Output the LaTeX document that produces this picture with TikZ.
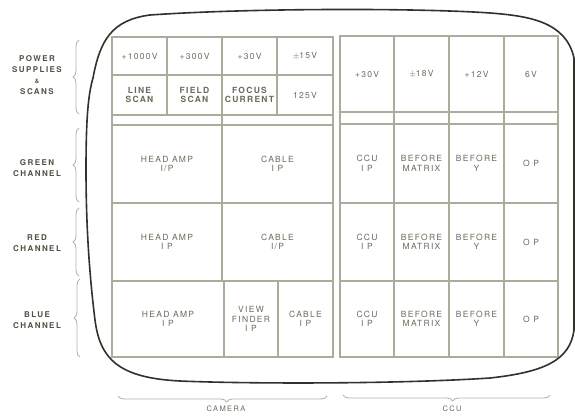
\documentclass[tikz,border=0pt]{standalone}
\usepackage{fontspec}
\setmainfont{TeX Gyre Heros}
\newfontfamily\cellfont[LetterSpace=15]{TeX Gyre Heros}
\newfontfamily\lblfont[LetterSpace=18]{TeX Gyre Heros}
\usetikzlibrary{decorations.pathreplacing}
\definecolor{gridc}{HTML}{A9AD99}
\definecolor{bracec}{HTML}{B5B8A6}
\definecolor{txtc}{HTML}{686D5B}
\definecolor{lblc}{HTML}{4F5444}
\definecolor{scrc}{HTML}{2F332A}
\newcommand{\cellat}[6]{%
  \pgfmathsetmacro\cw{#4-#2}\pgfmathsetmacro\ch{#5-#3}%
  \node[cell, minimum width=\cw pt, minimum height=\ch pt] (#1) at ({(#2+#4)/2},{(#3+#5)/2}) {#6};}
\tikzset{
  cell/.style={draw=gridc, line width=1.1pt, inner sep=0pt, align=center, text=txtc,
    font={\cellfont\fontsize{8.5}{9.5}\selectfont}},
  boldcell/.style={cell, font={\cellfont\bfseries\fontsize{8.5}{9.5}\selectfont}},
  sidelbl/.style={align=center, text=lblc, inner sep=0pt,
    font={\lblfont\bfseries\fontsize{8}{11}\selectfont}},
  botlbl/.style={align=center, text=txtc, inner sep=0pt, anchor=north,
    font={\lblfont\fontsize{7.5}{9}\selectfont}},
  brc/.style={draw=bracec, line width=0.9pt, decorate, decoration={brace, amplitude=6pt}},
  screen/.style={draw=scrc, line width=1.6pt}
}
\begin{document}
\begin{tikzpicture}[x=1pt,y=-1pt]
\clip (0,0) rectangle (575,415);
\fill[white] (0,0) rectangle (575,415);
% camera top block
\cellat{p1}{112}{37}{167}{75}{+1000V}
\cellat{p2}{167}{37}{222}{75}{+300V}
\cellat{p3}{222}{37}{277}{75}{+30V}
\cellat{p4}{277}{37}{333}{75}{$\pm$15V}
\node[boldcell, minimum width=55pt, minimum height=40pt] (s1) at (139.5,95) {LINE\\SCAN};
\node[boldcell, minimum width=55pt, minimum height=40pt] (s2) at (194.5,95) {FIELD\\SCAN};
\node[boldcell, minimum width=55pt, minimum height=40pt] (s3) at (249.5,95) {FOCUS\\CURRENT};
\cellat{s4}{277}{75}{333}{115}{125V}
\cellat{t1}{112}{115}{222}{125}{}
\cellat{t2}{222}{115}{333}{125}{}
% ccu top block
\cellat{c1}{340}{36}{394}{112}{+30V}
\cellat{c2}{394}{36}{449}{112}{$\pm$18V}
\cellat{c3}{449}{36}{504}{112}{+12V}
\cellat{c4}{504}{36}{558}{112}{6V}
\cellat{u1}{340}{112}{394}{124}{}
\cellat{u2}{394}{112}{449}{124}{}
\cellat{u3}{449}{112}{504}{124}{}
\cellat{u4}{504}{112}{558}{124}{}
% green
\cellat{g1}{112}{125}{222}{203}{HEAD AMP\\I/P}
\cellat{g2}{222}{125}{333}{203}{CABLE\\I P}
\cellat{gc1}{340}{124}{394}{203}{CCU\\I P}
\cellat{gc2}{394}{124}{449}{203}{BEFORE\\MATRIX}
\cellat{gc3}{449}{124}{504}{203}{BEFORE\\Y}
\cellat{gc4}{504}{124}{558}{203}{O P}
% red
\cellat{r1}{112}{203}{222}{281}{HEAD AMP\\I P}
\cellat{r2}{222}{203}{333}{281}{CABLE\\I/P}
\cellat{rc1}{340}{203}{394}{281}{CCU\\I P}
\cellat{rc2}{394}{203}{449}{281}{BEFORE\\MATRIX}
\cellat{rc3}{449}{203}{504}{281}{BEFORE\\Y}
\cellat{rc4}{504}{203}{558}{281}{O P}
% blue
\cellat{b1}{112}{281}{224}{357}{HEAD AMP\\I P}
\cellat{b2}{224}{281}{278}{357}{VIEW\\FINDER\\I P}
\cellat{b3}{278}{281}{333}{357}{CABLE\\I P}
\cellat{bc1}{340}{281}{394}{357}{CCU\\I P}
\cellat{bc2}{394}{281}{449}{357}{BEFORE\\MATRIX}
\cellat{bc3}{449}{281}{504}{357}{BEFORE\\Y}
\cellat{bc4}{504}{281}{558}{357}{O P}
% side labels
\node[sidelbl] (lpow) at (37,75) {POWER\\SUPPLIES\\{\fontsize{6}{11}\selectfont\&}\\SCANS};
\node[sidelbl] (lgrn) at (37,168) {GREEN\\CHANNEL};
\node[sidelbl] (lred) at (37,243) {RED\\CHANNEL};
\node[sidelbl] (lblu) at (37,320) {BLUE\\CHANNEL};
% braces
\draw[brc] (79,114) -- (79,40);
\draw[brc] (79,202) -- (79,128);
\draw[brc] (79,276) -- (79,208);
\draw[brc] (80,357) -- (80,279);
\draw[brc, decoration={aspect=0.48}] (327,396) -- (118,396);
\draw[brc, decoration={aspect=0.47}] (550,395) -- (343,395);
\node[botlbl] (lcam) at (226,406) {CAMERA};
\node[botlbl] (lccu) at (452,406) {CCU};
% screen outline
\draw[screen] (86,170)
  .. controls (86,120) and (88,95) .. (93,78)
  .. controls (100,40) and (112,20) .. (150,15)
  .. controls (250,8) and (420,8) .. (490,13)
  .. controls (530,16) and (566,22) .. (574,58)
  -- (574,330)
  .. controls (570,360) and (545,372) .. (490,378)
  .. controls (400,384) and (250,384) .. (180,381)
  .. controls (120,378) and (100,360) .. (95,320)
  .. controls (90,280) and (86,230) .. (86,170) -- cycle;
\end{tikzpicture}
\end{document}
